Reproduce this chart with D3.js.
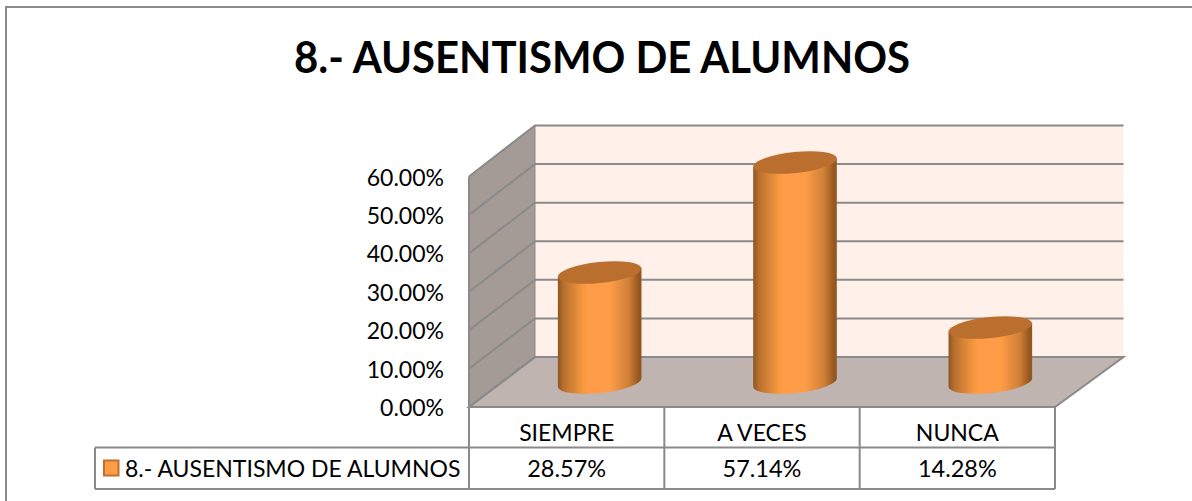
<!DOCTYPE html>
<html><head><meta charset="utf-8">
<script src="https://cdn.jsdelivr.net/npm/d3@7"></script>
<style>html,body{margin:0;padding:0;background:#fff}svg{display:block}text{font-family:Lato,Carlito,sans-serif;fill:#000}</style>
</head><body><svg id="c" width="1192" height="501"></svg>
<script>
const chartTitle = "8.- AUSENTISMO DE ALUMNOS";
const seriesName = "8.- AUSENTISMO DE ALUMNOS";
const categories = ["SIEMPRE","A VECES","NUNCA"];
const values = [28.57,57.14,14.28];
const valueLabels = ["28.57%","57.14%","14.28%"];
const ticks = [0,10,20,30,40,50,60];

const svg = d3.select("#c");
const grey="#8a8a8a";
// scales
const yFront = d3.scaleLinear().domain([0,60]).range([407,176.5]);
const yBack = d3.scaleLinear().domain([0,60]).range([357,125.5]);
const xFront = d3.scaleBand().domain(categories).range([469,1055]);
const depthX = 66, backRight = 1123.5;
const yBar = d3.scaleLinear().domain([0,60]).range([382.5,151.5]);

const defs = svg.append("defs");
const g = defs.append("linearGradient").attr("id","cyl");
[[0,"#8e5522"],[0.07,"#b8702f"],[0.3,"#f5983f"],[0.36,"#ff9c47"],[0.62,"#ff9c47"],[0.85,"#cf7f38"],[0.96,"#99591f"],[1,"#8e5522"]]
 .forEach(s=>g.append("stop").attr("offset",s[0]).attr("stop-color",s[1]));

// chart frame: only the top and left edges are visible
svg.append("path").attr("d","M6,501 L6,7 L1192,7").attr("fill","none").attr("stroke",grey).attr("stroke-width",2);

svg.append("text").attr("x",294).attr("y",73)
  .attr("font-size",44).attr("font-weight",700)
  .attr("textLength",616).attr("lengthAdjust","spacingAndGlyphs").text(chartTitle);

const x0=xFront.range()[0], x1=xFront.range()[1];
svg.append("rect").attr("x",x0+depthX).attr("y",yBack(60)).attr("width",backRight-x0-depthX).attr("height",yBack(0)-yBack(60)).attr("fill","#fff0e9");
svg.append("path").attr("d",d3.line()([[x0,yFront(0)],[x0,yFront(60)],[x0+depthX,yBack(60)],[x0+depthX,yBack(0)]])+"Z").attr("fill","#a59b96");
svg.append("path").attr("d",d3.line()([[x0,yFront(0)],[x0+depthX,yBack(0)],[backRight,yBack(0)],[x1,yFront(0)]])+"Z").attr("fill","#bfb4af").attr("stroke",grey).attr("stroke-width",2);
ticks.forEach(t=>{
  svg.append("path").attr("d",d3.line()([[x0,yFront(t)],[x0+depthX,yBack(t)],[backRight,yBack(t)]])).attr("fill","none").attr("stroke",grey).attr("stroke-width",2);
});
svg.append("line").attr("x1",x0).attr("x2",x0).attr("y1",yFront(60)).attr("y2",yFront(0)).attr("stroke",grey).attr("stroke-width",2);
svg.append("line").attr("x1",x0+depthX).attr("x2",x0+depthX).attr("y1",yBack(60)).attr("y2",yBack(0)).attr("stroke",grey).attr("stroke-width",1);
svg.append("g").selectAll("text").data(ticks).join("text")
  .attr("x",444).attr("y",d=>yFront(d)+9).attr("text-anchor","end").attr("font-size",23)
  .text(d=>d.toFixed(2)+"%");

// cylinders
const rx=42, ry=10.5, rot=-6;
const hw=41.8, skew=4.5;
values.forEach((v,i)=>{
  const cx=xFront(categories[i])+xFront.bandwidth()/2+33;
  const yt=yBar(v), yb=yBar(0);
  const p=`M${cx-hw},${yt+skew} L${cx-hw},${yb+skew} A${rx},${ry} ${rot} 0 0 ${cx+hw},${yb-skew} L${cx+hw},${yt-skew} Z`;
  svg.append("path").attr("d",p).attr("fill","url(#cyl)");
  svg.append("ellipse").attr("rx",rx).attr("ry",ry)
    .attr("transform",`translate(${cx},${yt}) rotate(${rot})`).attr("fill","#ba6f2f");
});

// data table
const rowY=[407,447.5,489];
const tl=svg.append("g").attr("stroke",grey).attr("stroke-width",2).attr("fill","none");
const vx=[x0,...categories.map(c=>xFront(c)+xFront.bandwidth())];
vx.forEach(x=>tl.append("line").attr("x1",x).attr("x2",x).attr("y1",rowY[0]).attr("y2",rowY[2]));
tl.append("line").attr("x1",95).attr("x2",x1).attr("y1",rowY[1]).attr("y2",rowY[1]);
tl.append("line").attr("x1",95).attr("x2",x1).attr("y1",rowY[2]).attr("y2",rowY[2]);
tl.append("line").attr("x1",95).attr("x2",95).attr("y1",rowY[1]).attr("y2",rowY[2]);

svg.append("g").selectAll("text").data(categories).join("text")
  .attr("x",d=>xFront(d)+xFront.bandwidth()/2).attr("y",441).attr("text-anchor","middle").attr("font-size",23).text(d=>d);
svg.append("g").selectAll("text").data(valueLabels).join("text")
  .attr("x",(d,i)=>xFront(categories[i])+xFront.bandwidth()/2).attr("y",477).attr("text-anchor","middle").attr("font-size",23.5).text(d=>d);
svg.append("rect").attr("x",104).attr("y",460.5).attr("width",14.5).attr("height",15).attr("fill","#ff9c47").attr("stroke","#c0702c").attr("stroke-width",2);
svg.append("text").attr("x",125).attr("y",477).attr("font-size",23).text(seriesName);
</script></body></html>
